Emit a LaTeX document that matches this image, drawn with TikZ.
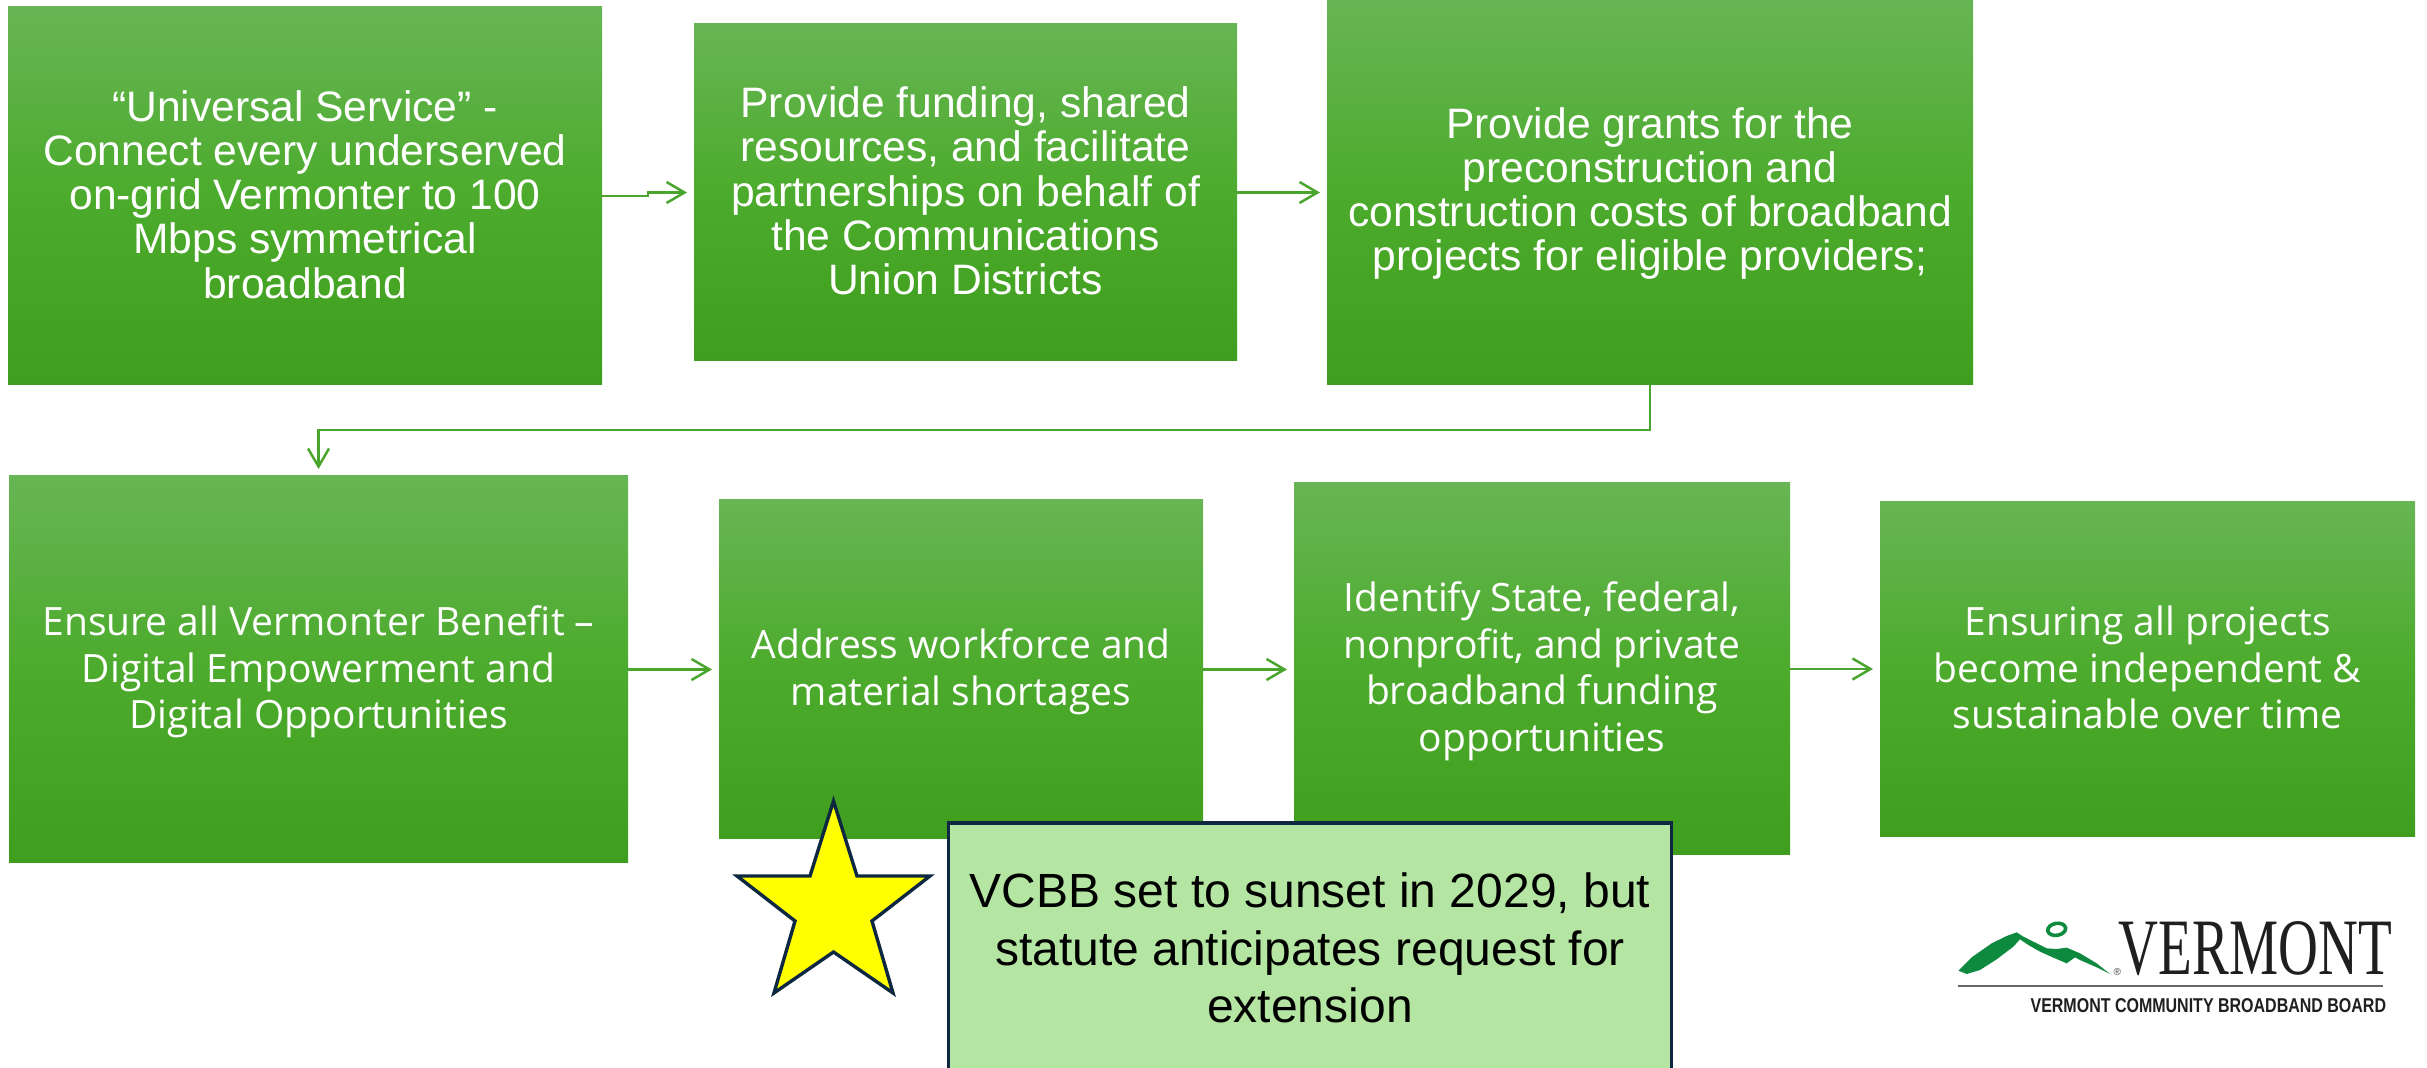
\documentclass[tikz,border=0pt]{standalone}
\usepackage{fontspec}
\setmainfont{Liberation Sans}
\newfontfamily\bodyfont{Open Sans}
\newfontfamily\serifname{Liberation Serif}
\usetikzlibrary{arrows.meta}
\definecolor{gtop}{HTML}{67B554}
\definecolor{gmid}{HTML}{4CAB2C}
\definecolor{gbot}{HTML}{3F9E1D}
\definecolor{link}{HTML}{4AA52E}
\definecolor{navy}{HTML}{0E2841}
\definecolor{pale}{HTML}{B4E5A2}
\definecolor{logogreen}{HTML}{0E8A3E}
\definecolor{staryellow}{RGB}{255,255,0}
\newcommand\nudged[2]{\raisebox{#1}[\height][\depth]{\begin{tabular}{@{}c@{}}#2\end{tabular}}}
\tikzset{
  gbox/.style={anchor=center,inner sep=0pt,outer sep=0pt,text=white,align=center,
    top color=gtop,bottom color=gbot,middle color=gmid},
  toptext/.style={font=\fontsize{21.3pt}{22.1pt}\selectfont},
  lowtext/.style={font=\bodyfont\fontsize{19.5pt}{23.4pt}\selectfont},
  link/.style={draw=link,line width=1.25pt,shorten >=3.5pt,-{Straight Barb[length=9pt,width=10.5pt,line width=1.25pt]}},
  note/.style={draw=navy,line width=1.7pt,fill=pale,inner sep=0pt,outer sep=0pt,align=center,
    minimum width=361.5pt,minimum height=125pt,font=\fontsize{24pt}{28.7pt}\selectfont},
}
\begin{document}
\begin{tikzpicture}[x=0.5pt,y=-0.5pt]
\useasboundingbox (0,0) rectangle (2427,1068);
\clip (0,0) rectangle (2427,1068);
\node[gbox,toptext,minimum width=297pt,minimum height=189pt] (b1) at (305,196) {\nudged{-2.4pt}{“Universal Service” -\\Connect every underserved\\on-grid Vermonter to 100\\Mbps symmetrical\\broadband}};
\node[gbox,toptext,minimum width=271.5pt,minimum height=168.5pt] (b2) at (965.5,192.5) {\nudged{-2.4pt}{Provide funding, shared\\resources, and facilitate\\partnerships on behalf of\\the Communications\\Union Districts}};
\node[gbox,toptext,minimum width=323pt,minimum height=192.5pt] (b3) at (1650,192.5) {\nudged{-1.5pt}{Provide grants for the\\preconstruction and\\construction costs of broadband\\projects for eligible providers;}};
\node[gbox,lowtext,minimum width=309.5pt,minimum height=193.5pt] (b4) at (318.5,669.5) {\nudged{-1.6pt}{Ensure all Vermonter Benefit –\\Digital Empowerment and\\Digital Opportunities}};
\node[gbox,lowtext,minimum width=242pt,minimum height=169.5pt] (b5) at (961,669.5) {\nudged{-1.6pt}{Address workforce and\\material shortages}};
\node[gbox,lowtext,minimum width=248pt,minimum height=186pt] (b6) at (1542,669) {\nudged{-1.6pt}{Identify State, federal,\\nonprofit, and private\\broadband funding\\opportunities}};
\node[gbox,lowtext,minimum width=267.5pt,minimum height=167.5pt] (b7) at (2147.5,669.5) {\nudged{-1.6pt}{Ensuring all projects\\become independent \&\\sustainable over time}};
% connectors
\coordinate (jog) at (648,194);
\draw[link] (b1.east) -- (b1.east -| jog) -- (jog |- b2.west) -- (b2.west);
\draw[link] (b2.east) -- (b3.west |- b2.east);
\coordinate (bendr) at (1650,430);
\coordinate (bendl) at (318.5,430);
\draw[link] (b3.south) -- (bendr) -- (bendl) -- (b4.north);
\draw[link] (b4.east) -- (b5.west);
\draw[link] (b5.east) -- (b6.west |- b5.east);
\draw[link] (b6.east) -- (b7.west |- b6.east);
% star
\draw[navy,fill=staryellow,line width=1.7pt,miter limit=10,line join=miter]
  (833.5,801) -- (857,876) -- (930,876) -- (872,921) -- (893,993) -- (833.5,952) -- (774,993) -- (795,921) -- (737,876) -- (810,876) -- cycle;
% callout
\node[note] (callout) at (1310,948) {VCBB set to sunset in 2029, but\\statute anticipates request for\\extension};
% logo
\begin{scope}[shift={(1900,880)},x=0.16667pt,y=-0.16667pt]
\fill[logogreen] (175,272) -- (215,232) -- (275,190) -- (320,168) -- (350,157) -- (370,170) -- (400,185) -- (440,205) -- (470,207) -- (500,203) -- (540,220) -- (590,250) -- (630,282) -- (590,262) -- (540,240) -- (525,232) -- (500,250) -- (465,235) -- (420,215) -- (385,195) -- (360,178) -- (340,200) -- (290,238) -- (240,270) -- (200,282) -- cycle;
\draw[logogreen,line width=1.8pt,rotate around={10:(470,148)}] (470,148) ellipse [x radius=27,y radius=18];
\node[inner sep=0pt,text=black!75,font=\fontsize{5pt}{6pt}\selectfont] (reg) at (652,277) {®};
\node[inner sep=0pt,xscale=0.69,text=black!88,font=\serifname\fontsize{40pt}{40pt}\selectfont,anchor=center] (vt) at (1066,205) {VERMONT};
\coordinate (rulea) at (175,318);
\coordinate (ruleb) at (1450,318);
\draw[black!60,line width=0.8pt] (rulea) -- (ruleb);
\node[inner sep=0pt,xscale=0.80,text=black!88,font=\bfseries\fontsize{10pt}{11pt}\selectfont,anchor=center] (vcbb) at (925,378) {VERMONT COMMUNITY BROADBAND BOARD};
\end{scope}
\end{tikzpicture}
\end{document}
